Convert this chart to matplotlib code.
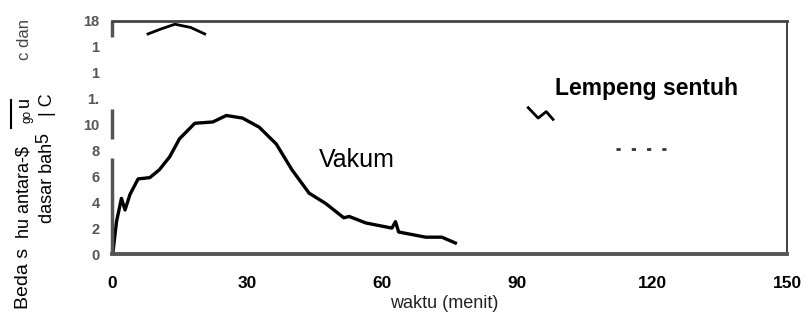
import matplotlib
matplotlib.use("Agg")
import matplotlib.pyplot as plt
from matplotlib.lines import Line2D

plt.rcParams['font.family'] = ['Liberation Sans', 'DejaVu Sans']

# Vakum curve (waktu in menit, beda suhu in C)
vakum_t = [0.2, 1.0, 2.1, 2.9, 4.0, 5.8, 8.4, 10.5, 12.8, 15.0, 18.4, 22.4, 25.4,
           29.0, 32.7, 36.5, 40.0, 43.8, 47.5, 51.5, 52.7, 56.4, 62.2, 63.0, 63.7,
           69.7, 73.3, 76.3]
vakum_y = [0.1, 2.5, 4.3, 3.4, 4.6, 5.8, 5.9, 6.5, 7.5, 8.9, 10.1, 10.2, 10.7,
           10.5, 9.8, 8.5, 6.5, 4.7, 3.9, 2.8, 2.9, 2.4, 2.0, 2.5, 1.7,
           1.3, 1.3, 0.85]

# fragments of the Lempeng sentuh curve that survive in the scan
arc_t = [8.0, 11.0, 14.0, 17.5, 20.6]
arc_y = [17.0, 17.4, 17.75, 17.5, 17.0]
squig_t = [92.5, 94.7, 96.5, 98.0]
squig_y = [11.3, 10.5, 11.0, 10.4]
dash_t = [112.0, 124.0]
dash_y = [8.15, 8.15]

xticks = [0, 30, 60, 90, 120, 150]
yticks = [0, 2, 4, 6, 8, 10, 12, 14, 16, 18]
ytick_labels = ['0', '2', '4', '6', '8', '10', '1.', '1', '1', '18']

fig = plt.figure(figsize=(8.05, 3.13), dpi=100)
ax = fig.add_axes([112 / 805, 1 - 254 / 313, (787 - 112) / 805, (254 - 21) / 313])

ax.plot(vakum_t, vakum_y, color='black', lw=2.4, solid_joinstyle='round')
ax.plot(arc_t, arc_y, color='black', lw=2.0)
ax.plot(squig_t, squig_y, color='black', lw=2.0)
ax.plot(dash_t, dash_y, color='#333333', lw=2.0, ls=(0, (1.5, 4)))

ax.set_xlim(0, 150)
ax.set_ylim(0, 18)
ax.set_xticks(xticks)
ax.set_xticklabels([str(t) for t in xticks], fontsize=12.5, fontweight='bold')
ax.set_yticks(yticks)
ax.set_yticklabels(ytick_labels, fontsize=10.5, fontweight='bold', color='#555555')
ax.tick_params(axis='both', length=0)
ax.tick_params(axis='x', pad=16)
ax.tick_params(axis='y', pad=9)

ax.spines['left'].set_visible(False)
ax.spines['top'].set_color('#444444')
ax.spines['top'].set_linewidth(2.0)
ax.spines['bottom'].set_color('#555555')
ax.spines['bottom'].set_linewidth(2.8)
ax.spines['right'].set_color('#333333')
ax.spines['right'].set_linewidth(1.3)
# broken left axis line as in the scan
ax.vlines([0, 0, 0], [0, 8.9, 16.8], [7.4, 11.2, 18], color='#555555', lw=2.5, clip_on=False)

ax.text(54.5, 7.3, 'Vakum', fontsize=18, ha='center', va='center')
ax.text(118.7, 12.8, 'Lempeng sentuh', fontsize=16.5, fontweight='bold', ha='center', va='center')

fig.text(444 / 805, 1 - 303 / 313, 'waktu (menit)', fontsize=13, ha='center', va='center',
         color='#222222')

# garbled y label from the scan
fig.text(24 / 805, 1 - 278 / 313, 'Beda s', rotation=90, fontsize=14, ha='center', va='center')
fig.text(24 / 805, 1 - 192 / 313, 'hu antara-$', rotation=90, fontsize=13, ha='center', va='center')
fig.text(27 / 805, 1 - 116 / 313, 'go', rotation=90, fontsize=8.5, ha='center', va='center')
fig.text(24 / 805, 1 - 102 / 313, 'u', rotation=90, fontsize=13, ha='center', va='center')
fig.add_artist(Line2D([11 / 805, 11 / 805], [1 - 128 / 313, 1 - 100 / 313], color='black', lw=1.5))
fig.text(24 / 805, 1 - 40 / 313, 'c dan', rotation=90, fontsize=12, ha='center', va='center',
         color='#444444')
fig.text(47 / 805, 1 - 183 / 313, 'dasar bah', rotation=90, fontsize=13, ha='center', va='center')
fig.text(44 / 805, 1 - 138 / 313, '5', rotation=90, fontsize=13, ha='center', va='center')
fig.text(47 / 805, 1 - 105 / 313, '| C', rotation=90, fontsize=13, ha='center', va='center')

fig.savefig('out.png', dpi=100)
